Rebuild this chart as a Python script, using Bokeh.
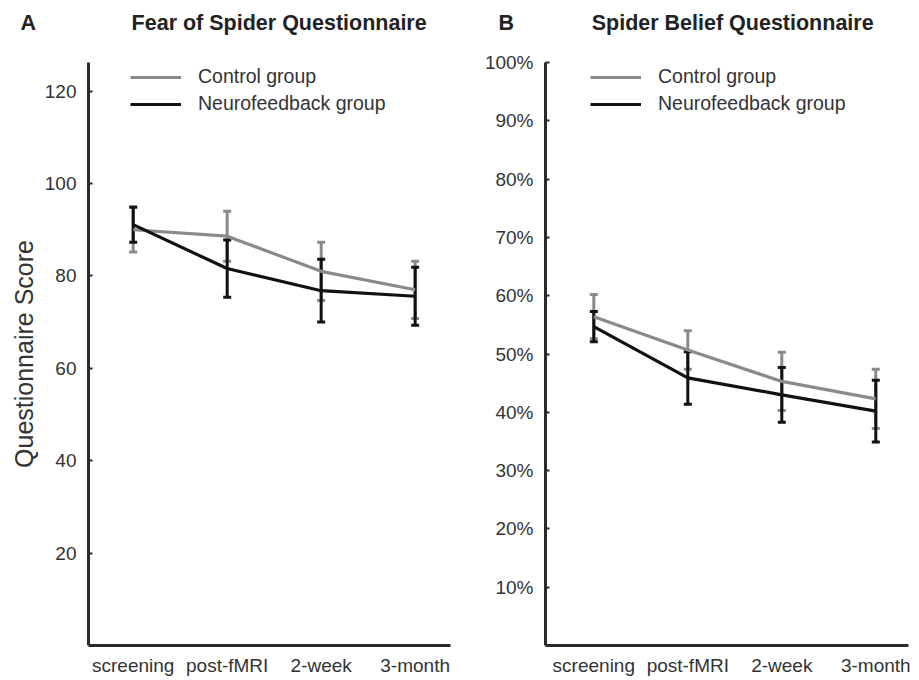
from bokeh.plotting import figure
from bokeh.layouts import row
from bokeh.models import (ColumnDataSource, Whisker, TeeHead, Legend, LegendItem,
                          FixedTicker, PrintfTickFormatter, Range1d)
from bokeh.embed import file_html
from bokeh.resources import INLINE

# ---------------- data ----------------
sessions = ["screening", "post-fMRI", "2-week", "3-month"]
session_x = [1, 2, 3, 4]

fsq_control_mean = [90.0, 88.6, 81.0, 77.0]
fsq_control_sem = [4.8, 5.4, 6.3, 6.2]
fsq_neuro_mean = [91.1, 81.6, 76.8, 75.6]
fsq_neuro_sem = [3.8, 6.2, 6.8, 6.3]

sbq_control_mean = [56.4, 50.7, 45.3, 42.3]
sbq_control_sem = [3.8, 3.3, 5.0, 5.1]
sbq_neuro_mean = [54.7, 45.9, 43.0, 40.2]
sbq_neuro_sem = [2.6, 4.5, 4.7, 5.3]

fsq_ticks = [20, 40, 60, 80, 100, 120]
sbq_ticks = [10, 20, 30, 40, 50, 60, 70, 80, 90, 100]

group_names = ["Control group", "Neurofeedback group"]

FONT = "Liberation Sans"
TXT = "#333333"
GRAY = "#8a8a8a"
BLACK = "#111111"
NBSP = "\u00a0"


def make_panel(width, border_left, border_right, xr, yr, ticks, fmt,
               ctrl_m, ctrl_s, neu_m, neu_s, title_text, title_offset,
               legend_x, ylabel=None):
    p = figure(width=width, height=680, output_backend="svg", toolbar_location=None,
               x_range=Range1d(*xr), y_range=Range1d(*yr),
               min_border_left=border_left, min_border_right=border_right,
               min_border_top=62, min_border_bottom=35)
    p.outline_line_color = None
    p.grid.visible = False
    p.background_fill_color = "white"
    p.border_fill_color = "white"

    # second (blank) line lifts the title row towards the top edge
    p.title.text = title_text + "\n" + NBSP
    p.title.align = "left"
    p.title.offset = title_offset
    p.title.standoff = 8
    p.title.vertical_align = "bottom"
    p.title.text_font = FONT
    p.title.text_font_style = "bold"
    p.title.text_font_size = "21.5px"
    p.title.text_color = "#222222"

    # axes
    p.xaxis.ticker = FixedTicker(ticks=session_x)
    p.xaxis.major_label_overrides = {x: s for x, s in zip(session_x, sessions)}
    p.xaxis.major_tick_in = 0
    p.xaxis.major_tick_out = 0
    p.xaxis.minor_tick_line_color = None
    p.xaxis.major_label_standoff = 9
    p.yaxis.ticker = FixedTicker(ticks=ticks)
    if fmt is not None:
        p.yaxis.formatter = fmt
    p.yaxis.major_tick_in = 4
    p.yaxis.major_tick_out = 0
    p.yaxis.minor_tick_line_color = None
    p.yaxis.major_label_standoff = 12
    for ax in (p.xaxis, p.yaxis):
        ax.axis_line_width = 3
        ax.axis_line_color = "#2a2a2a"
        ax.major_tick_line_color = "#2a2a2a"
        ax.major_tick_line_width = 2
        ax.major_label_text_font = FONT
        ax.major_label_text_font_size = "19px"
        ax.major_label_text_color = TXT
    if ylabel:
        p.yaxis.axis_label = ylabel
        p.yaxis.axis_label_text_font = FONT
        p.yaxis.axis_label_text_font_style = "normal"
        p.yaxis.axis_label_text_font_size = "25px"
        p.yaxis.axis_label_text_color = TXT
        p.yaxis.axis_label_standoff = 4

    items = []
    for m, s, col, name in ((ctrl_m, ctrl_s, GRAY, group_names[0]),
                            (neu_m, neu_s, BLACK, group_names[1])):
        src = ColumnDataSource(dict(x=session_x, y=m,
                                    upper=[a + b for a, b in zip(m, s)],
                                    lower=[a - b for a, b in zip(m, s)]))
        r = p.line("x", "y", source=src, line_color=col, line_width=3.2)
        w = Whisker(base="x", upper="upper", lower="lower", source=src,
                    line_color=col, line_width=3,
                    upper_head=TeeHead(size=8, line_color=col, line_width=3),
                    lower_head=TeeHead(size=8, line_color=col, line_width=3))
        p.add_layout(w)
        items.append(LegendItem(label=name, renderers=[r]))

    leg = Legend(items=items, location=(legend_x, 530), padding=0, margin=0,
                 spacing=4, glyph_width=51, glyph_height=20, label_height=20,
                 label_standoff=17, border_line_alpha=0, background_fill_alpha=0,
                 label_text_font=FONT, label_text_font_size="19.5px",
                 label_text_color=TXT)
    p.add_layout(leg)
    return p


pA = make_panel(468, 88, 18, (0.5245, 4.376), (0, 126.2), fsq_ticks, None,
                fsq_control_mean, fsq_control_sem, fsq_neuro_mean, fsq_neuro_sem,
                "A" + NBSP * 16 + "Fear of Spider Questionnaire", -68, 42,
                ylabel="Questionnaire Score")
pB = make_panel(450, 77, 10, (0.486, 4.348), (0, 100), sbq_ticks,
                PrintfTickFormatter(format="%d%%"),
                sbq_control_mean, sbq_control_sem, sbq_neuro_mean, sbq_neuro_sem,
                "B" + NBSP * 13 + "Spider Belief Questionnaire", -47, 45)

layout = row(pA, pB)
open("out.html", "w").write(file_html(layout, INLINE))
